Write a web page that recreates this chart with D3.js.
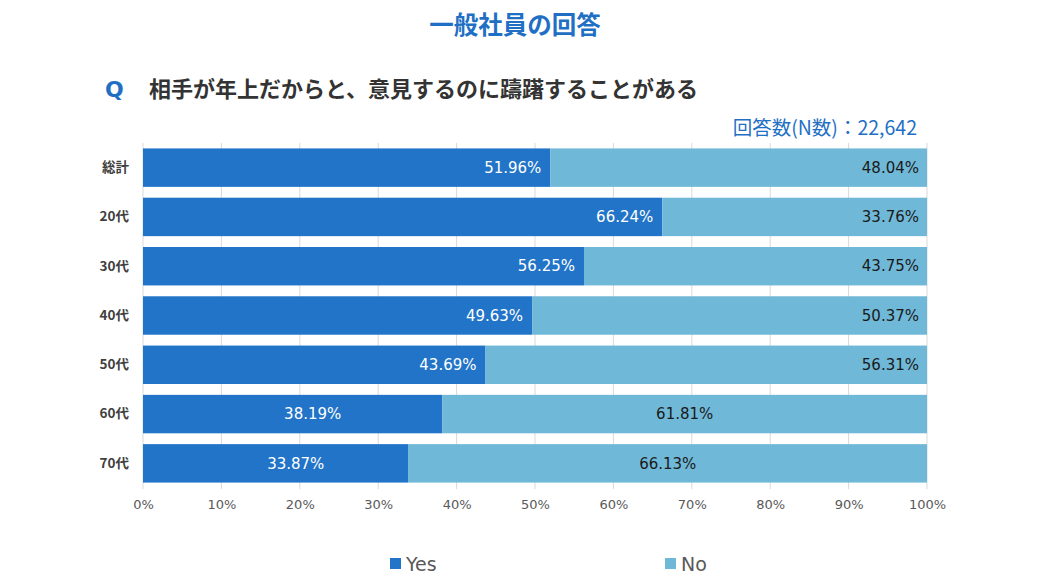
<!DOCTYPE html>
<html><head><meta charset="utf-8">
<script src="https://cdn.jsdelivr.net/npm/d3@7"></script>
<style>body{margin:0;background:#fff}svg{display:block}</style>
</head><body>
<svg id="c" width="1041" height="586"></svg>
<script>
const categories = ["総計","20代","30代","40代","50代","60代","70代"];
const yesValues = [51.96,66.24,56.25,49.63,43.69,38.19,33.87];
const noValues  = [48.04,33.76,43.75,50.37,56.31,61.81,66.13];
const tickValues = [0,10,20,30,40,50,60,70,80,90,100];
const seriesNames = ["Yes","No"];
const colors = ["#2174c7","#70b8d7"];
const titleText = "一般社員の回答";
const questionText = "相手が年上だからと、意見するのに躊躇することがある";
const nText = "回答数(N数)：22,642";

const svg = d3.select("#c");
const jp = "'Noto Sans CJK JP','Noto Sans',sans-serif";
const num = "'DejaVu Sans',Verdana,sans-serif";

const x = d3.scaleLinear().domain([0,100]).range([143,927]);
const y = d3.scaleBand().domain(categories).range([143,488]).paddingInner(0.22).paddingOuter(0.11);

// titles
svg.append("text").attr("x",515).attr("y",25).attr("dy","0.35em").attr("text-anchor","middle")
  .attr("font-family",jp).attr("font-weight","bold").attr("font-size",24.5).attr("fill","#1f70c4").text(titleText);
svg.append("text").attr("x",105).attr("y",89).attr("dy","0.35em")
  .attr("font-family","'DejaVu Sans',sans-serif").attr("font-weight","bold").attr("font-size",22).attr("fill","#1f70c4").text("Q");
svg.append("text").attr("x",149).attr("y",89).attr("dy","0.35em")
  .attr("font-family",jp).attr("font-weight","bold").attr("font-size",22).attr("fill","#333").text(questionText);
svg.append("text").attr("x",917).attr("y",128).attr("dy","0.35em").attr("text-anchor","end")
  .attr("font-family",jp).attr("font-size",19.5).attr("fill","#1f70c4").text(nText);

// gridlines
svg.append("g").selectAll("line").data(tickValues).join("line")
  .attr("x1",d=>x(d)).attr("x2",d=>x(d)).attr("y1",143).attr("y2",489)
  .attr("stroke","#d9d9d9").attr("stroke-width",1);

// axis
const xAxis = d3.axisBottom(x).tickValues(tickValues).tickFormat(d=>d+"%").tickSize(0).tickPadding(0);
const ax = svg.append("g").attr("transform","translate(0,500)").call(xAxis);
ax.select(".domain").remove();
ax.selectAll("text").attr("font-family",num).attr("font-size",13).attr("fill","#595959").attr("dy","0.71em");

// category labels
const yAxis = d3.axisLeft(y).tickSize(0).tickPadding(0);
const ay = svg.append("g").attr("transform","translate(129,0)").call(yAxis);
ay.select(".domain").remove();
ay.selectAll("text").attr("font-family",jp).attr("font-weight","bold").attr("font-size",13.5).attr("fill","#404040");

// bars
const rows = categories.map((c,i)=>({c, yes:yesValues[i], no:noValues[i], i}));
const g = svg.append("g");
g.selectAll("rect.yes").data(rows).join("rect").attr("class","yes")
  .attr("x",x(0)).attr("y",d=>y(d.c)).attr("width",d=>x(d.yes)-x(0)).attr("height",y.bandwidth()).attr("fill",colors[0]);
g.selectAll("rect.no").data(rows).join("rect").attr("class","no")
  .attr("x",d=>x(d.yes)).attr("y",d=>y(d.c)).attr("width",d=>x(d.yes+d.no)-x(d.yes)).attr("height",y.bandwidth()).attr("fill",colors[1]);

const centered = d => d.i >= 5;
g.selectAll("text.yl").data(rows).join("text").attr("class","yl")
  .attr("x",d=>centered(d)? (x(0)+x(d.yes))/2 + 20 : x(d.yes)-9)
  .attr("y",d=>y(d.c)+y.bandwidth()/2).attr("dy","0.35em")
  .attr("text-anchor",d=>centered(d)?"middle":"end")
  .attr("font-family",num).attr("font-size",15).attr("fill","#fff")
  .text(d=>d.yes.toFixed(2)+"%");
g.selectAll("text.nl").data(rows).join("text").attr("class","nl")
  .attr("x",d=>centered(d)? (x(d.yes)+x(100))/2 : x(100)-8)
  .attr("y",d=>y(d.c)+y.bandwidth()/2).attr("dy","0.35em")
  .attr("text-anchor",d=>centered(d)?"middle":"end")
  .attr("font-family",num).attr("font-size",15).attr("fill","#1a1a1a")
  .text(d=>d.no.toFixed(2)+"%");

// legend
const legX = [390,665];
const lg = svg.append("g").selectAll("g").data(seriesNames).join("g")
  .attr("transform",(d,i)=>`translate(${legX[i]},558)`);
lg.append("rect").attr("width",11).attr("height",11).attr("fill",(d,i)=>colors[i]);
lg.append("text").attr("x",16).attr("y",6).attr("dy","0.35em")
  .attr("font-family",num).attr("font-size",19).attr("fill","#595959").text(d=>d);
</script>
</body></html>
